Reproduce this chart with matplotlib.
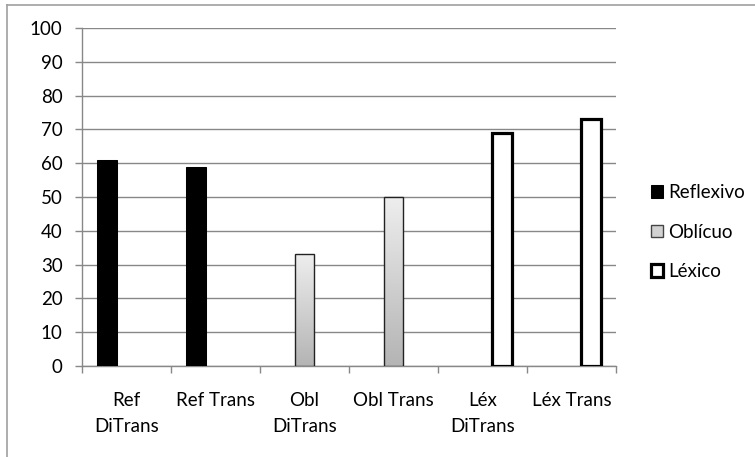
import numpy as np
import matplotlib
matplotlib.use("Agg")
import matplotlib.pyplot as plt
from matplotlib.lines import Line2D
from matplotlib.patches import Patch
from matplotlib.colors import LinearSegmentedColormap

plt.rcParams["font.family"] = ["Lato", "DejaVu Sans"]

# ============================
# Data
# ============================
categories = ["Ref\nDiTrans", "Ref Trans", "Obl\nDiTrans", "Obl Trans", "Léx\nDiTrans", "Léx Trans"]
series_names = ["Reflexivo", "Oblícuo", "Léxico"]
reflexivo = [61, 59, 0, 0, 0, 0]
obliquo = [0, 0, 33, 50, 0, 0]
lexico = [0, 0, 0, 0, 69, 73]

GRID_COLOR = "#888888"
FONT_SIZE = 13.5

fig = plt.figure(figsize=(7.55, 4.57), dpi=100)
ax = fig.add_axes([82 / 755, 1 - 366 / 457, (616 - 82) / 755, (366 - 28) / 457])

x = np.arange(len(categories))
w = 1 / 4.5  # gap width 150%

b_ref = ax.bar(x - w, reflexivo, w, color="black", edgecolor="black", linewidth=0.75, zorder=3)
b_obl = ax.bar(x, obliquo, w, color="#d2d2d2", edgecolor="#222222", linewidth=1.0, zorder=4)
b_lex = ax.bar(x + w, lexico, w, color="white", edgecolor="black", linewidth=2.3, zorder=3)

# hide empty bars
for cont in (b_ref, b_obl, b_lex):
    for p in cont.patches:
        if p.get_height() == 0:
            p.set_visible(False)

# vertical gradient inside the Oblícuo bars
grad_cmap = LinearSegmentedColormap.from_list("obl", ["#b4b4b4", "#eeeeee"])
grad = np.linspace(0, 1, 256).reshape(-1, 1)
for p in b_obl.patches:
    h = p.get_height()
    if h == 0:
        continue
    x0 = p.get_x()
    im = ax.imshow(grad, cmap=grad_cmap, origin="lower", aspect="auto",
                   extent=(x0, x0 + p.get_width(), 0, h), zorder=3.5)
    im.set_clip_path(p)
    p.set_facecolor("none")

ax.set_xlim(-0.5, len(categories) - 0.5)
ax.set_ylim(0, 100)
ax.set_yticks(np.arange(0, 101, 10))
ax.yaxis.grid(True, color=GRID_COLOR, linewidth=1.0, zorder=0)
ax.set_axisbelow(True)

# category boundaries as tick marks, labels centred between them
ax.set_xticks(np.arange(-0.5, len(categories), 1.0))
ax.set_xticklabels([])
ax.set_xticks(x, minor=True)
ax.set_xticklabels(categories, minor=True, fontsize=FONT_SIZE, linespacing=1.65)
ax.tick_params(axis="x", which="major", length=5, color=GRID_COLOR, width=1.0)
ax.tick_params(axis="x", which="minor", length=0, pad=19)
ax.tick_params(axis="y", length=5, color=GRID_COLOR, width=1.0, pad=9, labelsize=FONT_SIZE)

for side in ("top", "right"):
    ax.spines[side].set_visible(False)
for side in ("left", "bottom"):
    ax.spines[side].set_color(GRID_COLOR)
    ax.spines[side].set_linewidth(1.0)

handles = [
    Patch(facecolor="black", edgecolor="black", linewidth=0.75),
    Patch(facecolor="#d2d2d2", edgecolor="#444444", linewidth=1.0),
    Patch(facecolor="white", edgecolor="black", linewidth=2.3),
]
ax.legend(handles, series_names, loc="center left",
          bbox_to_anchor=(651 / 755, 1 - 232 / 457), bbox_transform=fig.transFigure,
          frameon=False, fontsize=FONT_SIZE, handlelength=0.65, handleheight=0.65,
          handletextpad=0.25, labelspacing=1.2, borderpad=0, borderaxespad=0)

# chart area border
border_kw = dict(color="#a0a0a0", linewidth=1.2, transform=fig.transFigure)
fig.add_artist(Line2D([6.5 / 755, 6.5 / 755], [0, 1 - 4.5 / 457], **border_kw))
fig.add_artist(Line2D([6.5 / 755, 1], [1 - 4.5 / 457, 1 - 4.5 / 457], **border_kw))

fig.savefig("out.png", dpi=100, facecolor="white")
